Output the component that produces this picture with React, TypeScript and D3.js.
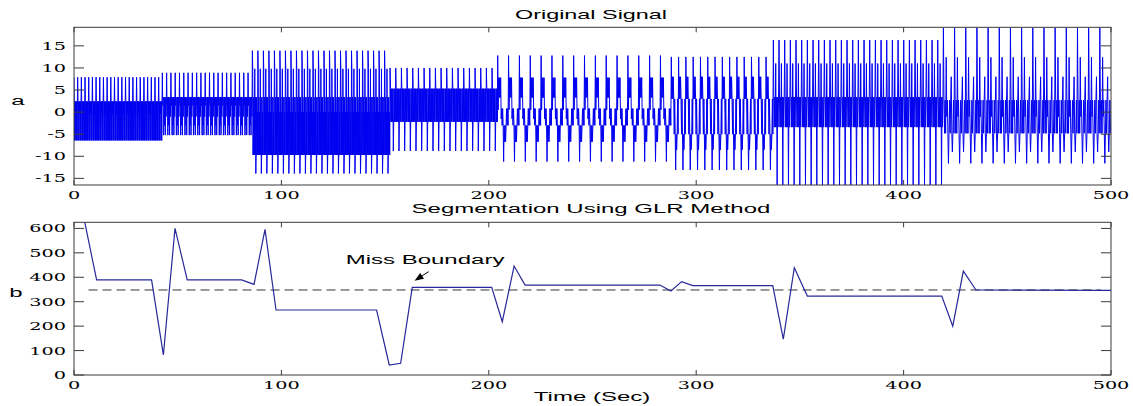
import React, { useMemo } from 'react';
import * as d3 from 'd3';

const W = 1133;
const H = 406;

// segments of the original signal (sec), cycles counted in each, and one cycle
const segStarts = [0, 42.6, 86, 152.4, 204.3, 288, 337.2, 419.2];
const segEnds = [42.6, 86, 152.4, 204.3, 288, 337.2, 419.2, 500];
const segCycles = [24, 21, 25, 19, 16, 14, 30, 15];
const segWaves = [
	[7.9, 2.4, -6.4, 2.4, -6.4, 2.4, -0.3, 2.4, -6.4, 2.4, -6.4, 2.4],
	[8.9, 3.4, 1.5, 3.4, -5.2, -5.2, 1.5, 3.4, -3, 3.4, 1.5, -5.2, 1.5, 3.4, -1.0, 3.4],
	[13.9, 9.8, -9.7, 3.4, -9.7, 0, -9.7, 9.8, -9.7, 3.4, -13.9, -9.7, 3.4, -9.7, 0, -9.7],
	[10, 5.3, -2.2, 5.3, -2.2, 5.3, -2.2, 5.3, -8.8, -2.2, 5.3, -2.2, 5.3, -2.2],
	[12.8, 0.5, 7.8, 3.3, 7.8, 3.3, 7.8, -1.5, 0.8, -3, 0.8, -3, -11.2, -3, -6.7, -3, -6.7, -3, 0.8, -3, 0.8, -3],
	[12.5, 3, 8, 3, 8, 3, -5, 3, -5, -13.1, -5, -8.5, -5, 3, -5],
	[16.3, 3.4, -3.4, 3.4, -3.4, 11, -3.4, 3.4, -16.5, 3.4, -3.4, 3.4],
	[19.1, 2.7, -4.8, 2.7, -4.8, 12.4, -1, 2.7, -4.8, -11.6, -4.8, 2.7, -4.8, 2.7, 8, -4.8, -9, -4.8, 2.7, -4.8],
];

// GLR segmentation curve
const glrTime = [0, 10.9, 37.4, 43.1, 48.7, 54.6, 80.8, 86.8, 92.1, 97.4, 145.9, 152, 157.5, 163.1, 201.4, 206.5, 212.2, 217.5, 282.5, 287.8, 293, 298.3, 336.9, 342, 347.3, 353.6, 418.4, 423.7, 428.8, 434.9, 500];
const glrValue = [840, 389, 389, 82, 600, 389, 389, 371, 596, 266, 266, 41, 48, 359, 359, 218, 446, 368, 368, 344, 382, 366, 366, 147, 439, 323, 323, 200, 425, 348, 346];
const threshold = 348;
const thresholdSpan = [7, 495];

// annotation
const missLabel = 'Miss Boundary';
const missText = [131, 454];
const missArrowFrom = [171, 423];
const missArrowTo = [164.2, 386];

const xTicks = [0, 100, 200, 300, 400, 500];
const aTicks = [-15, -10, -5, 0, 5, 10, 15];
const bTicks = [0, 100, 200, 300, 400, 500, 600];

const SANS = '"Liberation Sans", Arial, sans-serif';
const SERIF = '"DejaVu Serif", serif';

function Txt({ x, y, anchor = 'middle', size = 12, family = SANS, sx = 2, children }: any) {
	return (
		<text
			transform={`translate(${x},${y}) scale(${sx},1)`}
			textAnchor={anchor}
			fontSize={size}
			fontFamily={family}
			fill="#000"
		>
			{children}
		</text>
	);
}

export default function App() {
	const L = 74, R = 1111;
	const x = d3.scaleLinear().domain([0, 500]).range([L, R]);
	const yA = d3.scaleLinear().domain([-16.5, 19.2]).range([185, 27.3]);
	const yB = d3.scaleLinear().domain([0, 625]).range([375, 222.3]);

	// lay each segment's cycle out over the segment
	const signal = useMemo(() => {
		const pts: [number, number][] = [];
		segStarts.forEach((a, s) => {
			const b = segEnds[s];
			const wave = segWaves[s];
			const n = segCycles[s];
			const total = n * wave.length;
			for (let i = 0; i < total; i++) {
				pts.push([a + ((b - a) * i) / total, wave[i % wave.length]]);
			}
		});
		return pts;
	}, []);

	const sigPath = d3.line<[number, number]>().x((d) => x(d[0])).y((d) => yA(d[1]))(signal) || '';
	const glrPath =
		d3.line<number>().x((d, i) => x(glrTime[i])).y((d) => yB(d))(glrValue) || '';

	const axesBox = (yScale: any, top: number, bottom: number, yTicks: number[], tag: string) => (
		<g>
			<rect x={L} y={top} width={R - L} height={bottom - top} fill="none" stroke="#3a3a3a" strokeWidth={1} />
			{xTicks.map((t) => (
				<g key={tag + 'x' + t}>
					<line x1={x(t)} x2={x(t)} y1={bottom} y2={bottom - 5} stroke="#3a3a3a" />
					<line x1={x(t)} x2={x(t)} y1={top} y2={top + 5} stroke="#3a3a3a" />
				</g>
			))}
			{yTicks.map((t) => (
				<g key={tag + 'y' + t}>
					<line x1={L} x2={L + 10} y1={yScale(t)} y2={yScale(t)} stroke="#3a3a3a" />
					<line x1={R} x2={R - 10} y1={yScale(t)} y2={yScale(t)} stroke="#3a3a3a" />
					<Txt x={66} y={yScale(t) + 4} anchor="end" size={11} family={SERIF} sx={1.75}>
						{t}
					</Txt>
				</g>
			))}
			{xTicks.map((t) => (
				<Txt key={tag + 'xl' + t} x={x(t)} y={bottom + 14} size={11} family={SERIF} sx={1.75}>
					{t}
				</Txt>
			))}
		</g>
	);

	const ax = x(missArrowFrom[0]), ay = yB(missArrowFrom[1]);
	const bx = x(missArrowTo[0]), by = yB(missArrowTo[1]);
	const ang = Math.atan2(by - ay, bx - ax);
	const head = 9, wing = 3.5;
	const hx = bx - head * Math.cos(ang), hy = by - head * Math.sin(ang);
	const arrowHead = `M${bx},${by} L${hx + wing * Math.sin(ang)},${hy - wing * Math.cos(ang)} L${hx - wing * Math.sin(ang)},${hy + wing * Math.cos(ang)} Z`;

	return (
		<svg width={W} height={H} style={{ position: 'absolute', left: 0, top: 0, background: '#fff' }}>
			<defs>
				<clipPath id="clipA">
					<rect x={L} y={27.3} width={R - L} height={185 - 27.3} />
				</clipPath>
				<clipPath id="clipB">
					<rect x={L} y={222.3} width={R - L} height={375 - 222.3} />
				</clipPath>
			</defs>

			{/* top panel */}
			<path d={sigPath} fill="none" stroke="#0000f0" strokeWidth={1} clipPath="url(#clipA)" />
			{axesBox(yA, 27.3, 185, aTicks, 'a')}
			<Txt x={591} y={19} size={12} sx={1.95}>Original Signal</Txt>
			<Txt x={18} y={105} size={12} sx={2}>a</Txt>

			{/* bottom panel */}
			<line
				x1={x(thresholdSpan[0])}
				x2={x(thresholdSpan[1])}
				y1={yB(threshold)}
				y2={yB(threshold)}
				stroke="#333"
				strokeWidth={1}
				strokeDasharray="9,5"
			/>
			<path d={glrPath} fill="none" stroke="#28289a" strokeWidth={1.2} clipPath="url(#clipB)" />
			{axesBox(yB, 222.3, 375, bTicks, 'b')}
			<Txt x={591} y={213} size={12} sx={2}>Segmentation Using GLR Method</Txt>
			<Txt x={16} y={297} size={12} sx={2}>b</Txt>
			<Txt x={592} y={401} size={12} sx={2}>Time (Sec)</Txt>

			<Txt x={x(missText[0])} y={yB(missText[1])} anchor="start" size={12} sx={2}>{missLabel}</Txt>
			<line x1={ax} y1={ay} x2={hx} y2={hy} stroke="#000" strokeWidth={1} />
			<path d={arrowHead} fill="#000" />
		</svg>
	);
}
